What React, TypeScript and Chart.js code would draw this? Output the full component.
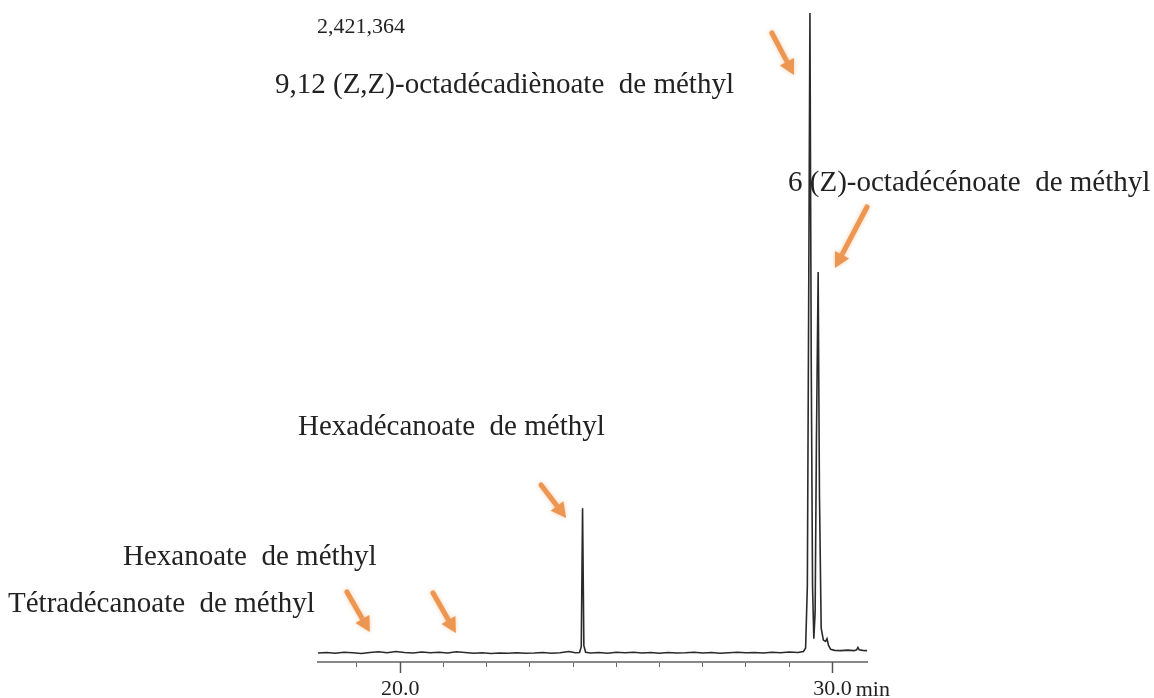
import { useEffect, useRef } from "react";
import { Chart, registerables } from "chart.js";

Chart.register(...registerables);

// ---- Data (retention time in min, detector intensity) ----
const retentionTimes = [
  18.1, 18.3, 18.5, 18.7, 18.9, 19.1, 19.3, 19.5, 19.7, 19.9,
  20.1, 20.3, 20.5, 20.7, 20.9, 21.1, 21.3, 21.5, 21.7, 21.9,
  22.1, 22.3, 22.5, 22.7, 22.9, 23.1, 23.3, 23.5, 23.7, 23.9,
  24.05, 24.15, 24.19, 24.22, 24.25, 24.29, 24.4, 24.6, 24.8, 25.0,
  25.2, 25.4, 25.6, 25.8, 26.0, 26.2, 26.4, 26.6, 26.8, 27.0,
  27.2, 27.4, 27.6, 27.8, 28.0, 28.2, 28.4, 28.6, 28.8, 29.0,
  29.2, 29.33, 29.38, 29.42, 29.45, 29.48, 29.51, 29.54, 29.57, 29.6,
  29.63, 29.67, 29.7, 29.74, 29.79, 29.84, 29.875, 29.91, 29.96, 30.05,
  30.2, 30.35, 30.5, 30.56, 30.59, 30.62, 30.7, 30.8,
];
const intensities = [
  -4000, -2000, -5000, -1000, -3000, -6000, -2000, 1000, -3000, 2000,
  -2000, -4000, 0, -3000, -1000, -4000, 1000, -2000, -5000, -3000,
  -6000, -4000, -5000, -3000, -5000, -4000, -2000, -5000, -3000, 2000,
  -3000, -2000, 20000, 545000, 25000, -1000, -4000, -2000, -5000, -1000,
  -3000, -1000, -4000, -2000, -5000, -2000, -4000, -3000, -1000, -4000,
  -2000, -5000, -3000, -1000, -3000, -2000, -4000, -1000, -3000, 0,
  -2000, 2000, 15000, 250000, 1300000, 2421364, 1100000, 250000, 50000, 150000,
  800000, 1440000, 600000, 90000, 45000, 40000, 50000, 25000, 10000, 6000,
  5000, 7000, 5000, 8000, 17000, 8000, 6000, 5000,
];

const xMin = 18.1;
const xMax = 30.8;
const yMin = -38000;
const yMax = 2421364;

const tickValues = [19, 20, 21, 22, 23, 24, 25, 26, 27, 28, 29, 30];
const majorTicks = [20, 30];
const majorTickLabels = ["20.0", "30.0"];
const axisUnit = "min";
const maxIntensityLabel = "2,421,364";

// ---- Annotations (anchored in data coordinates) ----
const peakNames = [
  "9,12 (Z,Z)-octadécadiènoate  de méthyl",
  "6 (Z)-octadécénoate  de méthyl",
  "Hexadécanoate  de méthyl",
  "Hexanoate  de méthyl",
  "Tétradécanoate  de méthyl",
];
const peakNameX = [17.105, 28.973, 17.637, 13.589, 10.929];
const peakNameY = [2118330, 1746960, 822320, 329690, 151580];
const maxLabelX = 18.077;
const maxLabelY = 2345700;

const arrowFromX = [28.6, 30.8, 23.26, 18.77, 20.76];
const arrowFromY = [2345700, 1686330, 632850, 227370, 223580];
const arrowToX = [29.11, 30.06, 23.84, 19.3, 21.29];
const arrowToY = [2186540, 1455170, 507790, 75790, 72000];

const SERIF = '"Liberation Serif", "Times New Roman", serif';

function drawArrow(ctx: CanvasRenderingContext2D, x1: number, y1: number, x2: number, y2: number) {
  const ang = Math.atan2(y2 - y1, x2 - x1);
  const headLen = 15;
  const headHalf = 8;
  const bx = x2 - headLen * Math.cos(ang);
  const by = y2 - headLen * Math.sin(ang);
  ctx.beginPath();
  ctx.moveTo(x1, y1);
  ctx.lineTo(bx, by);
  ctx.stroke();
  ctx.beginPath();
  ctx.moveTo(x2, y2);
  ctx.lineTo(bx + headHalf * Math.sin(ang), by - headHalf * Math.cos(ang));
  ctx.lineTo(bx - headHalf * Math.sin(ang), by + headHalf * Math.cos(ang));
  ctx.closePath();
  ctx.fill();
}

const annotationPlugin = {
  id: "chromAnnotations",
  afterDraw(chart: any) {
    const { ctx } = chart;
    const xs = chart.scales.x;
    const ys = chart.scales.y;
    ctx.save();

    // Longer major ticks
    ctx.strokeStyle = "#555";
    ctx.lineWidth = 1.5;
    majorTicks.forEach((v) => {
      const px = Math.round(xs.getPixelForValue(v)) + 0.5;
      ctx.beginPath();
      ctx.moveTo(px, xs.top);
      ctx.lineTo(px, xs.top + 11);
      ctx.stroke();
    });

    // Unit after last major label
    ctx.fillStyle = "#222";
    ctx.font = `22px ${SERIF}`;
    ctx.textBaseline = "alphabetic";
    ctx.textAlign = "left";
    const lastLbl = majorTickLabels[majorTickLabels.length - 1];
    const lastPx = xs.getPixelForValue(majorTicks[majorTicks.length - 1]);
    const lw = ctx.measureText(lastLbl).width;
    ctx.fillText(axisUnit, lastPx + lw / 2 + 4, 696);

    // Max intensity label
    ctx.font = `22px ${SERIF}`;
    ctx.fillText(maxIntensityLabel, xs.getPixelForValue(maxLabelX), ys.getPixelForValue(maxLabelY));

    // Peak names
    ctx.font = `29px ${SERIF}`;
    peakNames.forEach((name, i) => {
      ctx.fillText(name, xs.getPixelForValue(peakNameX[i]), ys.getPixelForValue(peakNameY[i]));
    });

    // Arrows
    ctx.strokeStyle = "rgb(236,150,82)";
    ctx.fillStyle = "rgb(236,150,82)";
    ctx.lineWidth = 5;
    ctx.lineCap = "round";
    ctx.shadowColor = "rgba(240,170,110,0.6)";
    ctx.shadowBlur = 4;
    arrowFromX.forEach((fx, i) => {
      drawArrow(
        ctx,
        xs.getPixelForValue(fx),
        ys.getPixelForValue(arrowFromY[i]),
        xs.getPixelForValue(arrowToX[i]),
        ys.getPixelForValue(arrowToY[i])
      );
    });
    ctx.restore();
  },
};

export default function App() {
  const canvasRef = useRef<HTMLCanvasElement | null>(null);

  useEffect(() => {
    document.body.style.margin = "0";
    const canvas = canvasRef.current;
    if (!canvas) return;
    const points = retentionTimes.map((t, i) => ({ x: t, y: intensities[i] }));
    const chart = new Chart(canvas, {
      type: "line",
      data: {
        datasets: [
          {
            data: points,
            borderColor: "#2a2a2a",
            borderWidth: 1.6,
            pointRadius: 0,
            tension: 0,
            fill: false,
          },
        ],
      },
      options: {
        animation: false,
        responsive: true,
        maintainAspectRatio: false,
        parsing: true,
        layout: { padding: { left: 318, right: 287, top: 13, bottom: 0 } },
        plugins: { legend: { display: false }, tooltip: { enabled: false } },
        scales: {
          x: {
            type: "linear",
            min: xMin,
            max: xMax,
            bounds: "data",
            border: { display: true, color: "#888", width: 2 },
            grid: { drawOnChartArea: false, drawTicks: true, tickLength: 5, color: "#666", tickWidth: 1 },
            afterBuildTicks: (s: any) => {
              s.ticks = tickValues.map((v) => ({ value: v }));
            },
            afterFit: (s: any) => {
              s.height = 36;
            },
            ticks: {
              autoSkip: false,
              maxRotation: 0,
              minRotation: 0,
              padding: 9,
              color: "#222",
              font: { family: SERIF, size: 22 },
              callback: (v: any) => {
                const i = majorTicks.indexOf(Number(v));
                return i >= 0 ? majorTickLabels[i] : "";
              },
            },
          },
          y: { display: false, min: yMin, max: yMax },
        },
      },
      plugins: [annotationPlugin],
    });
    return () => chart.destroy();
  }, []);

  return (
    <div style={{ position: "absolute", left: 0, top: 0, width: 1154, height: 698, background: "#fff" }}>
      <canvas ref={canvasRef} />
    </div>
  );
}
